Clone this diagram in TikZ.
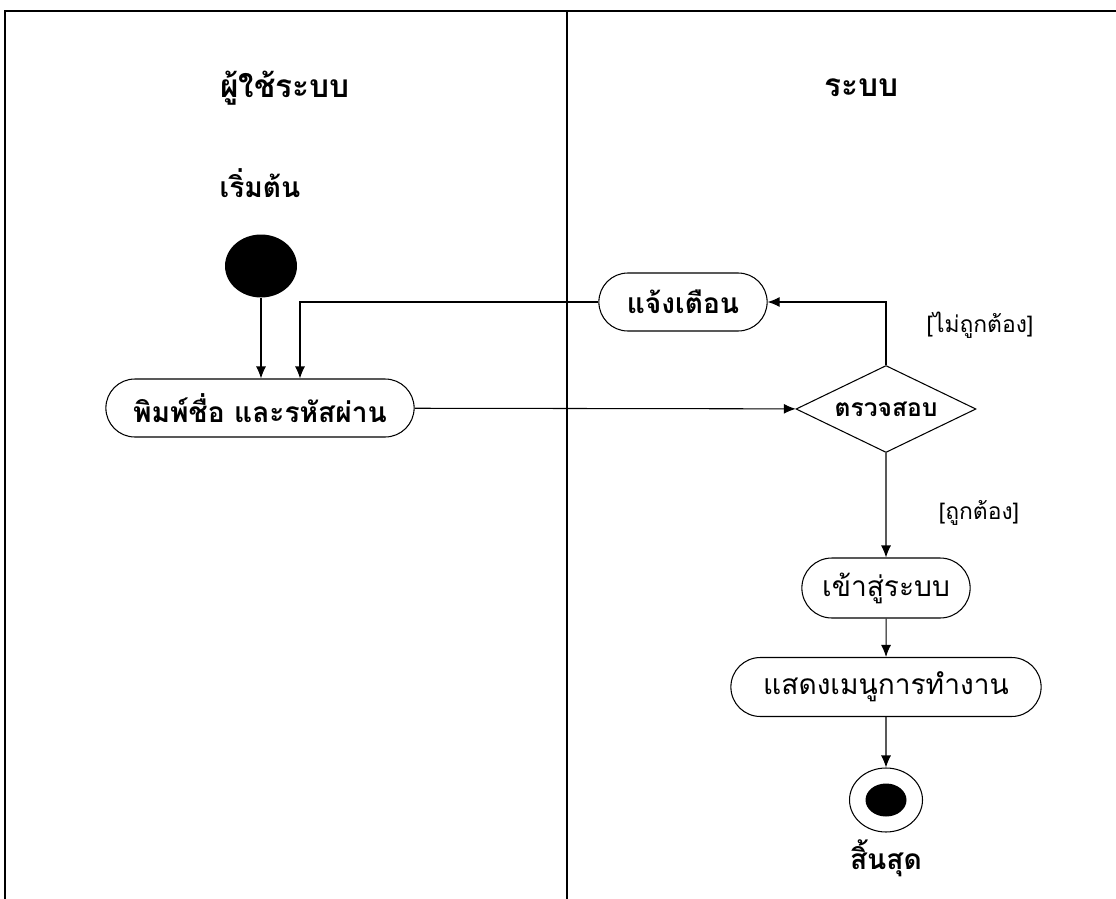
\documentclass[tikz,border=0pt]{standalone}
\usepackage{fontspec}
\setmainfont[Script=Thai]{Loma}
\usetikzlibrary{shapes.misc,shapes.geometric,arrows.meta}

\begin{document}
\begin{tikzpicture}[x=0.02cm, y=-0.02cm,
	act/.style={rounded rectangle, draw, semithick, font=\bfseries\fontsize{16}{18}\selectfont, minimum height=1.16cm},
	plain/.style={font=\mdseries\fontsize{16}{18}\selectfont},
	lbl/.style={font=\fontsize{13}{15}\selectfont},
	flow/.style={-{Latex[length=2.4mm,width=2mm]}, semithick}]
			\useasboundingbox (0,0) rectangle (1116,899);

			% swimlanes
			\draw [semithick] (5,899) -- (5,11) -- (1116,11);
			\draw [semithick] (567,11) -- (567,899);
			\node (user)[font=\bfseries\fontsize{18}{20}\selectfont] at (285,88) {ผู้ใช้ระบบ};
			\node (sys)[font=\bfseries\fontsize{18}{20}\selectfont] at (862,88) {ระบบ};

			\node (begin)[font=\bfseries\fontsize{16}{18}\selectfont] at (260,183) {เริ่มต้น};
			\node (start)[ellipse, fill=black, minimum width=1.44cm, minimum height=1.26cm] at (261,266) {};

			\node (login)[act, minimum width=6.4cm] at (260,408) {พิมพ์ชื่อ และรหัสผ่าน};
			\node (warn)[act, minimum width=3.6cm] at (683,302) {แจ้งเตือน};
			\node (check)[diamond, draw, semithick, aspect=2.08, inner sep=0pt, minimum width=3.6cm, minimum height=1.74cm, font=\bfseries\fontsize{14}{16}\selectfont] at (886,409) {ตรวจสอบ};
			\node (enter)[act, plain, minimum width=3.6cm, minimum height=1.2cm] at (886,588) {เข้าสู่ระบบ};
			\node (menu)[act, plain, minimum width=6.44cm, minimum height=1.18cm] at (886,687) {แสดงเมนูการทำงาน};
			\node (stop)[ellipse, draw, semithick, minimum width=1.46cm, minimum height=1.28cm] at (886,800) {};
			\node (dot)[ellipse, fill=black, minimum width=0.82cm, minimum height=0.66cm] at (stop) {};
			\node (finish)[font=\bfseries\fontsize{16}{18}\selectfont] at (886,858) {สิ้นสุด};

			\draw [flow](start)--(login.north -| start);
			\coordinate (back) at (300,302);
			\draw [flow](warn.west)--(back)--(login.north -| back);
			\draw [flow](login)--(check);
			\draw [flow](check.north)--(check.north |- warn)--(warn.east);
			\node (wrong)[lbl] at (980,325) {[ไม่ถูกต้อง]};
			\draw [flow](check)--(enter);
			\node (right)[lbl] at (979,513) {[ถูกต้อง]};
			\draw [flow](enter)--(menu);
			\draw [flow](menu)--(stop);
		\end{tikzpicture}
\end{document}
